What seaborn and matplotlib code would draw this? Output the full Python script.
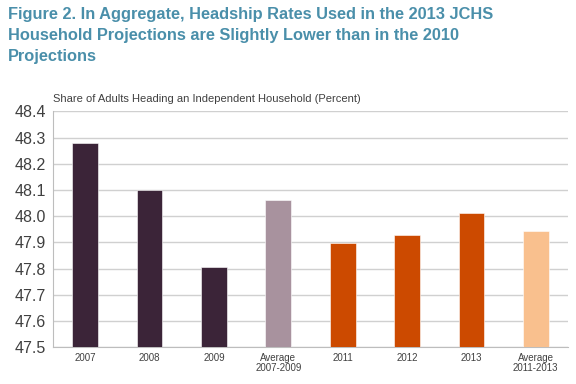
import numpy as np
import pandas as pd
import seaborn as sns
import matplotlib.pyplot as plt

categories = ["2007", "2008", "2009", "Average\n2007-2009", "2011", "2012", "2013", "Average\n2011-2013"]
values = [48.28, 48.10, 47.806, 48.061, 47.897, 47.928, 48.012, 47.945]
colors = ["#3B2438", "#3B2438", "#3B2438", "#A8929E", "#CC4A00", "#CC4A00", "#CC4A00", "#F9C08E"]
yticks = [47.5, 47.6, 47.7, 47.8, 47.9, 48.0, 48.1, 48.2, 48.3, 48.4]

sns.set_style("white")
plt.rcParams['font.family'] = ['Liberation Sans', 'DejaVu Sans']

df = pd.DataFrame({"cat": categories, "val": values})
fig = plt.figure(figsize=(5.76, 3.84), dpi=100)
ax = fig.add_axes([0.092, 0.096, 0.894, 0.614])

sns.barplot(data=df, x="cat", y="val", hue="cat", palette=colors, legend=False,
            width=0.40, saturation=1, ax=ax, zorder=3)
for b in ax.patches:
    b.set_edgecolor("white")
    b.set_linewidth(0.4)

ax.set_ylim(47.5, 48.4)
ax.set_yticks(yticks)
ax.set_yticklabels([f"{t:.1f}" for t in yticks], fontsize=11.5, color="#404040")
ax.yaxis.grid(True, color="#D0D0D0", linewidth=1.0, zorder=0)
ax.set_xlim(-0.5, len(categories) - 0.5)
ax.set_xticks(range(len(categories)))
ax.set_xticklabels(categories, fontsize=7, color="#404040", linespacing=1.1)
ax.tick_params(axis="x", length=0, pad=4)
ax.set_xticks(np.arange(-0.5, len(categories)), minor=True)
ax.tick_params(axis="x", which="minor", length=4, color="#BDBDBD", width=0.8)
ax.tick_params(axis="y", length=3, color="#BDBDBD", width=0.8, pad=2)
ax.set_xlabel("")
ax.set_ylabel("")
for s in ["top", "right"]:
    ax.spines[s].set_visible(False)
for s in ["left", "bottom"]:
    ax.spines[s].set_color("#BDBDBD")
    ax.spines[s].set_linewidth(0.8)

fig.text(0.014, 0.982, "Figure 2. In Aggregate, Headship Rates Used in the 2013 JCHS\n"
         "Household Projections are Slightly Lower than in the 2010\nProjections",
         fontsize=11.8, fontweight="bold", color="#4A8FAA", va="top", ha="left", linespacing=1.5)
fig.text(0.092, 0.728, "Share of Adults Heading an Independent Household (Percent)",
         fontsize=8, color="#404040", va="bottom", ha="left")

fig.savefig("out.png", dpi=100)
